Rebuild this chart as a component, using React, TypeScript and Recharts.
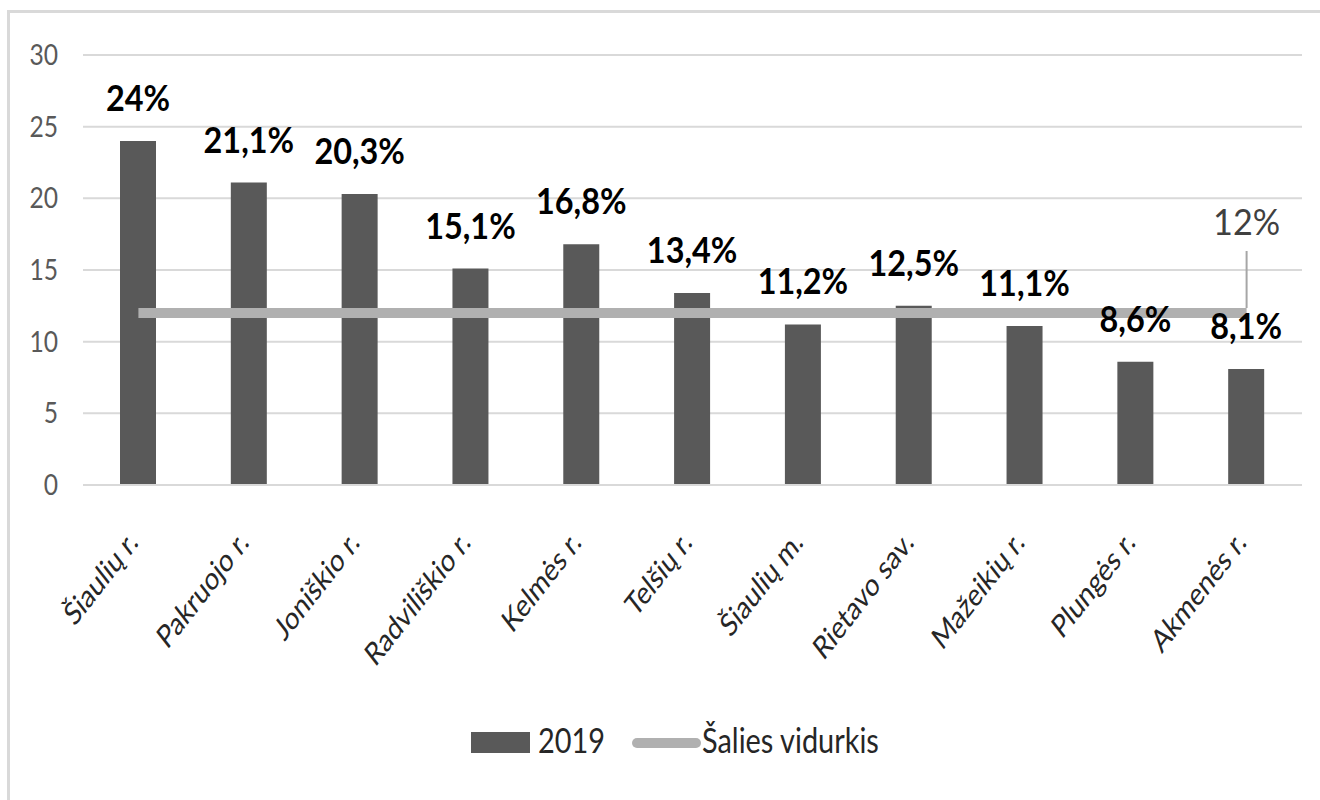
import { BarChart, Bar, Line, XAxis, YAxis, CartesianGrid, Legend } from 'recharts';

const categories = [
  'Šiaulių r.',
  'Pakruojo r.',
  'Joniškio r.',
  'Radviliškio r.',
  'Kelmės r.',
  'Telšių r.',
  'Šiaulių m.',
  'Rietavo sav.',
  'Mažeikių r.',
  'Plungės r.',
  'Akmenės r.',
];
const values2019 = [24, 21.1, 20.3, 15.1, 16.8, 13.4, 11.2, 12.5, 11.1, 8.6, 8.1];
const countryAverage = [12, 12, 12, 12, 12, 12, 12, 12, 12, 12, 12];
const yTicks = [0, 5, 10, 15, 20, 25, 30];

const FONT = "Lato, 'Open Sans', sans-serif";

const data = categories.map((name, i) => ({
  name,
  v2019: values2019[i],
  avg: countryAverage[i],
}));

const pct = (v: number) => `${String(v).replace('.', ',')}%`;

// the reference text is a narrow Calibri, so squeeze Lato horizontally
function NarrowText({ x, y, sx, anchor, size, weight, fill, children }: any) {
  return (
    <g transform={`translate(${x},${y}) scale(${sx},1)`}>
      <text x={0} y={0} textAnchor={anchor} fontFamily={FONT} fontSize={size} fontWeight={weight} fill={fill}>
        {children}
      </text>
    </g>
  );
}

function BarValueLabel(props: any) {
  const { x, y, width, value } = props;
  return (
    <NarrowText x={x + width / 2} y={y - 30} sx={0.9} anchor="middle" size={36} weight="bold" fill="#000">
      {pct(value)}
    </NarrowText>
  );
}

function AvgLabel(props: any) {
  const { x, y, index, value } = props;
  if (index !== categories.length - 1) return null;
  return (
    <g>
      <line x1={x} y1={y - 5} x2={x} y2={y - 62} stroke="#a6a6a6" strokeWidth={2} />
      <NarrowText x={x} y={y - 78} sx={0.95} anchor="middle" size={36} weight="normal" fill="#404040">
        {pct(value)}
      </NarrowText>
    </g>
  );
}

function ValueTick(props: any) {
  const { x, y, payload } = props;
  return (
    <NarrowText x={x} y={y + 10} sx={0.88} anchor="end" size={28} weight="normal" fill="#595959">
      {payload.value}
    </NarrowText>
  );
}

function CategoryTick(props: any) {
  const { x, y, payload } = props;
  return (
    <g transform={`translate(${x + 1},${y + 59}) scale(0.78,1) rotate(-45)`}>
      <text x={0} y={0} textAnchor="end" fontFamily={FONT} fontSize={32} fill="#262626">
        {payload.value}
      </text>
    </g>
  );
}

function ChartLegend() {
  return (
    <svg width={1310} height={50} style={{ display: 'block' }}>
      <rect x={461} y={12} width={59} height={21} fill="#595959" />
      <NarrowText x={528} y={33} sx={0.85} anchor="start" size={34} weight="normal" fill="#262626">
        2019
      </NarrowText>
      <line x1={627} y1={23} x2={686} y2={23} stroke="#b0b0b0" strokeWidth={10} strokeLinecap="round" />
      <NarrowText x={692} y={33} sx={0.85} anchor="start" size={34} weight="normal" fill="#262626">
        Šalies vidurkis
      </NarrowText>
    </svg>
  );
}

export default function App() {
  return (
    <>
      <style>{`body{margin:0;overflow:hidden;background:#fff}`}</style>
      <div
        style={{
          position: 'absolute',
          left: 7,
          top: 10,
          width: 1313,
          height: 790,
          borderTop: '3px solid #d9d9d9',
          borderLeft: '3px solid #d9d9d9',
          boxSizing: 'border-box',
          background: '#fff',
        }}
      >
        <BarChart
          width={1310}
          height={787}
          data={data}
          margin={{ top: 42, right: 18, left: 0, bottom: 30 }}
          barSize={36}
        >
          <CartesianGrid vertical={false} stroke="#d9d9d9" strokeWidth={2} />
          <XAxis
            dataKey="name"
            interval={0}
            height={235}
            tickLine={false}
            tickSize={0}
            tickMargin={0}
            axisLine={{ stroke: '#d9d9d9', strokeWidth: 2 }}
            tick={<CategoryTick />}
          />
          <YAxis
            width={73}
            domain={[0, 30]}
            ticks={yTicks}
            axisLine={false}
            tickLine={false}
            tickSize={0}
            tickMargin={25}
            tick={<ValueTick />}
          />
          <Legend verticalAlign="bottom" height={50} content={() => <ChartLegend />} />
          <Bar
            dataKey="v2019"
            name="2019"
            fill="#595959"
            isAnimationActive={false}
            label={<BarValueLabel />}
          />
          <Line
            dataKey="avg"
            name="Šalies vidurkis"
            stroke="#b0b0b0"
            strokeWidth={10}
            dot={false}
            activeDot={false}
            isAnimationActive={false}
            label={<AvgLabel />}
          />
        </BarChart>
      </div>
    </>
  );
}
